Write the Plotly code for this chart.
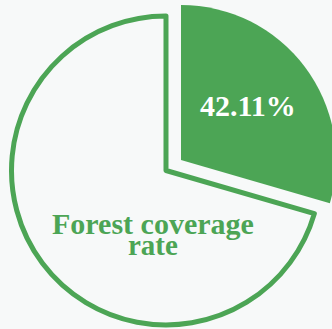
import plotly.graph_objects as go

# slice shares as drawn (green wedge spans ~106 deg from 12 o'clock)
categories = ["Forest", "Other"]
shares = [29.5, 70.5]
label_pct = "42.11%"
label_lines = ["Forest coverage", "rate"]

GREEN = "#4ca555"
BG = "#f7f9f9"
CLEAR = "rgba(0,0,0,0)"
W, H = 336, 329   # a touch wider than the window so the pulled wedge can run off the edge
SERIF = "Liberation Serif"


def box(cx, cy, r):
    # pixel centre/radius -> paper domain
    return dict(x=[(cx - r) / W, min((cx + r) / W, 1.0)],
                y=[(H - cy - r) / H, (H - cy + r) / H])


fig = go.Figure()

# outlined remainder
fig.add_trace(go.Pie(
    labels=categories, values=shares, sort=False, direction="clockwise", rotation=0,
    marker=dict(colors=[CLEAR, BG], line=dict(color=[CLEAR, GREEN], width=[0, 5])),
    textinfo="none", hoverinfo="skip", showlegend=False,
    domain=box(166, 170.5, 154.5),
))

# pulled-out filled wedge
fig.add_trace(go.Pie(
    labels=categories, values=shares, sort=False, direction="clockwise", rotation=0,
    marker=dict(colors=[GREEN, CLEAR], line=dict(width=0)),
    textinfo="none", hoverinfo="skip", showlegend=False,
    domain=box(181, 160, 155),
))

fig.add_annotation(x=247.5 / W, y=1 - 105 / H, xref="paper", yref="paper",
                   text=label_pct, showarrow=False, xanchor="center", yanchor="middle",
                   font=dict(family=SERIF, size=30, color="white", weight="bold"))
# two separate lines: the reference leading is much tighter than plotly's <br>
for line, cy, size in zip(label_lines, [223, 245], [30, 29]):
    fig.add_annotation(x=152.5 / W, y=1 - cy / H, xref="paper", yref="paper",
                       text=line, showarrow=False, xanchor="center", yanchor="middle",
                       font=dict(family=SERIF, size=size, color=GREEN, weight="bold"))

fig.update_layout(
    width=W, height=H,
    margin=dict(l=0, r=0, t=0, b=0),
    paper_bgcolor=BG, plot_bgcolor=BG,
)

fig.write_html("out.html", config={"displayModeBar": False},
               post_script="document.body.style.margin='0';document.body.style.overflow='hidden';")
